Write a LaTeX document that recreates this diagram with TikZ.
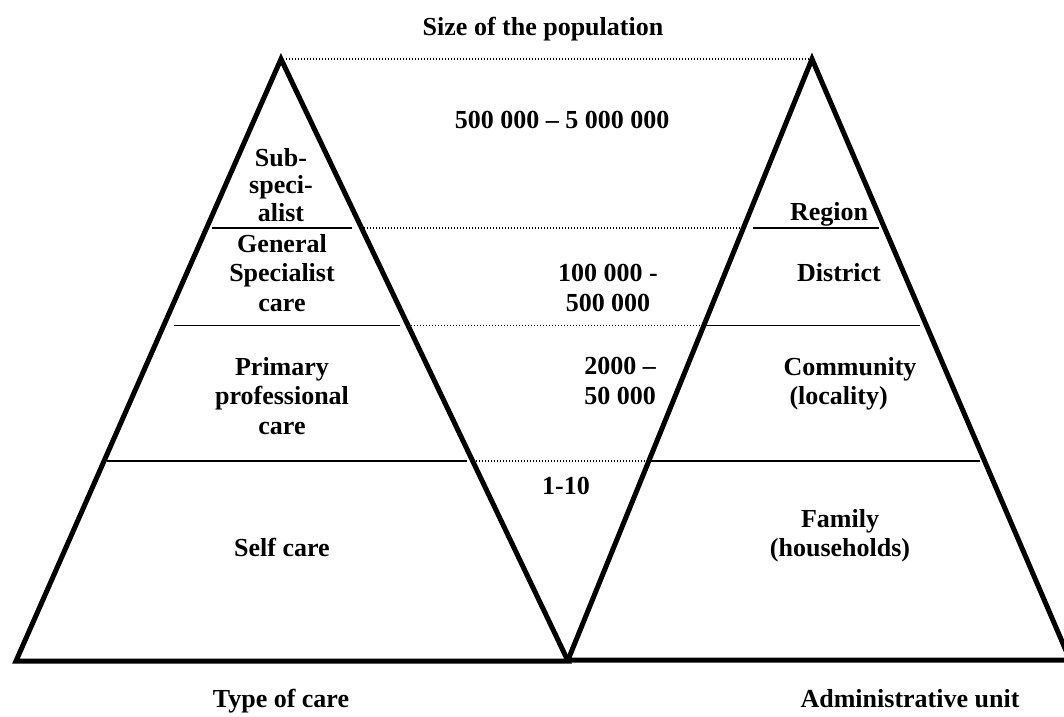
\documentclass[tikz,border=0pt]{standalone}
\usepackage{fontspec}
\setmainfont{Liberation Serif}
\begin{document}
\begin{tikzpicture}[x=1pt,y=-1pt,
  lbl/.style={font=\fontsize{26pt}{29.5pt}\selectfont\bfseries, inner sep=0pt, align=center},
  tight/.style={font=\fontsize{26pt}{27.5pt}\selectfont\bfseries},
  edge/.style={line width=5pt, miter limit=10},
  tier/.style={line width=1.8pt},
  guide/.style={line width=1.2pt, dash pattern=on 1.2pt off 1.8pt}]
\useasboundingbox (0,0) rectangle (1064,716);

% triangles
\coordinate (LA) at (281,59);
\coordinate (LB) at (16,661);
\coordinate (LC) at (568,661);
\coordinate (RA) at (812,59);
\coordinate (RB) at (568,660);
\coordinate (RC) at (1070,660);
\draw[edge] (LA) -- (LB) -- (LC) -- cycle;
\draw[edge] (RA) -- (RB) -- (RC) -- cycle;

% top dotted line
\coordinate (g0a) at (286,59);
\coordinate (g0b) at (809,59);
\draw[guide] (g0a) -- (g0b);

% level 1
\coordinate (t1a) at (212,228);
\coordinate (t1b) at (352,228);
\coordinate (g1a) at (364,228);
\coordinate (g1b) at (742,228);
\coordinate (t1c) at (753,228);
\coordinate (t1d) at (879,228);
\draw[tier] (t1a) -- (t1b);
\draw[guide] (g1a) -- (g1b);
\draw[tier] (t1c) -- (t1d);

% level 2
\coordinate (t2a) at (174,325.5);
\coordinate (t2b) at (400,325.5);
\coordinate (g2a) at (411,325.5);
\coordinate (g2b) at (702,325.5);
\coordinate (t2c) at (706,325.5);
\coordinate (t2d) at (920,325.5);
\draw[tier] (t2a) -- (t2b);
\draw[guide] (g2a) -- (g2b);
\draw[tier] (t2c) -- (t2d);

% level 3
\coordinate (t3a) at (107,461);
\coordinate (t3b) at (467,461);
\coordinate (g3a) at (476,461);
\coordinate (g3b) at (647,461);
\coordinate (t3c) at (651,461);
\coordinate (t3d) at (980,461);
\draw[tier] (t3a) -- (t3b);
\draw[guide] (g3a) -- (g3b);
\draw[tier] (t3c) -- (t3d);

% labels
\node[lbl, anchor=base] (title) at (543,35.6) {Size of the population};
\node[lbl, anchor=base] (p1) at (562,128.6) {500 000 -- 5 000 000};
\node[lbl, tight, anchor=north] (sub) at (281,148) {Sub-\\speci-\\alist};
\node[lbl, anchor=north] (gen) at (282,234) {General\\Specialist\\care};
\node[lbl, anchor=north] (prim) at (282,357) {Primary\\professional\\care};
\node[lbl, anchor=base] (self) at (282,556.6) {Self care};
\node[lbl, anchor=north] (p2) at (608,264) {100 000 -\\500 000};
\node[lbl, anchor=north] (p3) at (620,357) {2000 --\\50 000};
\node[lbl, anchor=base] (p4) at (566,494.6) {1-10};
\node[lbl, anchor=base] (reg) at (829,220.6) {Region};
\node[lbl, anchor=base] (dist) at (839,281.6) {District};
\node[lbl, anchor=north, align=left] (comm) at (850,357) {Community\\\hspace*{6pt}(locality)};
\node[lbl, anchor=north] (fam) at (840,509) {Family\\(households)};
\node[lbl, anchor=base] (type) at (281,707) {Type of care};
\node[lbl, anchor=base] (adm) at (910,707) {Administrative unit};
\end{tikzpicture}
\end{document}
